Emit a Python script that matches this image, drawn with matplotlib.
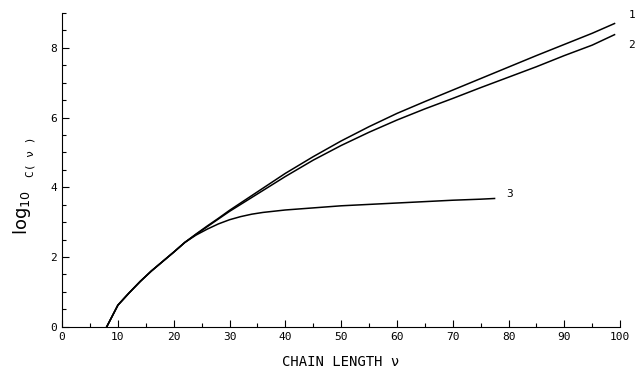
import matplotlib
matplotlib.use("Agg")
import matplotlib.pyplot as plt
from matplotlib.ticker import MultipleLocator

# chain length and log10 C(nu)
nu_12 = [8, 10, 12, 14, 16, 18, 20, 22, 24, 26, 28, 30, 35, 40, 45, 50, 55,
         60, 65, 70, 75, 80, 85, 90, 95, 99]
logc_1 = [0.0, 0.62, 0.97, 1.30, 1.60, 1.87, 2.14, 2.42, 2.66, 2.89, 3.11,
          3.34, 3.87, 4.40, 4.88, 5.33, 5.74, 6.12, 6.46, 6.79, 7.12, 7.45,
          7.78, 8.10, 8.42, 8.70]
logc_2 = [0.0, 0.62, 0.97, 1.30, 1.60, 1.87, 2.14, 2.42, 2.65, 2.87, 3.09,
          3.31, 3.81, 4.31, 4.78, 5.20, 5.58, 5.93, 6.25, 6.55, 6.86, 7.16,
          7.46, 7.78, 8.08, 8.38]
nu_3 = [8, 10, 12, 14, 16, 18, 20, 22, 24, 26, 28, 30, 32, 34, 36, 40, 45,
        50, 55, 60, 65, 70, 75, 77.5]
logc_3 = [0.0, 0.62, 0.97, 1.30, 1.60, 1.87, 2.14, 2.42, 2.63, 2.80, 2.95,
          3.07, 3.16, 3.23, 3.28, 3.35, 3.41, 3.47, 3.51, 3.55, 3.59, 3.63,
          3.66, 3.68]

fig = plt.figure(figsize=(6.37, 3.73), dpi=100)
ax = fig.add_axes([0.0975, 0.124, 0.876, 0.841])

ax.plot(nu_12, logc_1, color="black", lw=1.1)
ax.plot(nu_12, logc_2, color="black", lw=1.1)
ax.plot(nu_3, logc_3, color="black", lw=1.1)

ax.text(101.5, 8.85, "1", fontsize=8, family="DejaVu Sans Mono")
ax.text(101.5, 8.0, "2", fontsize=8, family="DejaVu Sans Mono")
ax.text(79.5, 3.72, "3", fontsize=8, family="DejaVu Sans Mono")

ax.set_xlim(0, 100)
ax.set_ylim(0, 9)
ax.xaxis.set_major_locator(MultipleLocator(10))
ax.xaxis.set_minor_locator(MultipleLocator(5))
ax.yaxis.set_major_locator(MultipleLocator(2))
ax.yaxis.set_minor_locator(MultipleLocator(0.5))
ax.tick_params(which="both", direction="in", width=0.8, labelsize=8)
ax.tick_params(which="major", length=5)
ax.tick_params(which="minor", length=3)
for lab in ax.get_xticklabels() + ax.get_yticklabels():
    lab.set_family("DejaVu Sans Mono")
ax.spines["top"].set_visible(False)
ax.spines["right"].set_visible(False)

ax.set_xlabel("CHAIN LENGTH ν", fontsize=10, family="DejaVu Sans Mono", labelpad=10)
fig.text(0.034, 0.43, "log$_{10}$", rotation=90, fontsize=13, ha="center", va="center")
fig.text(0.048, 0.58, "C( ν )", rotation=90, fontsize=8, ha="center", va="center",
         family="DejaVu Sans Mono")

fig.savefig("out.png", dpi=100)
